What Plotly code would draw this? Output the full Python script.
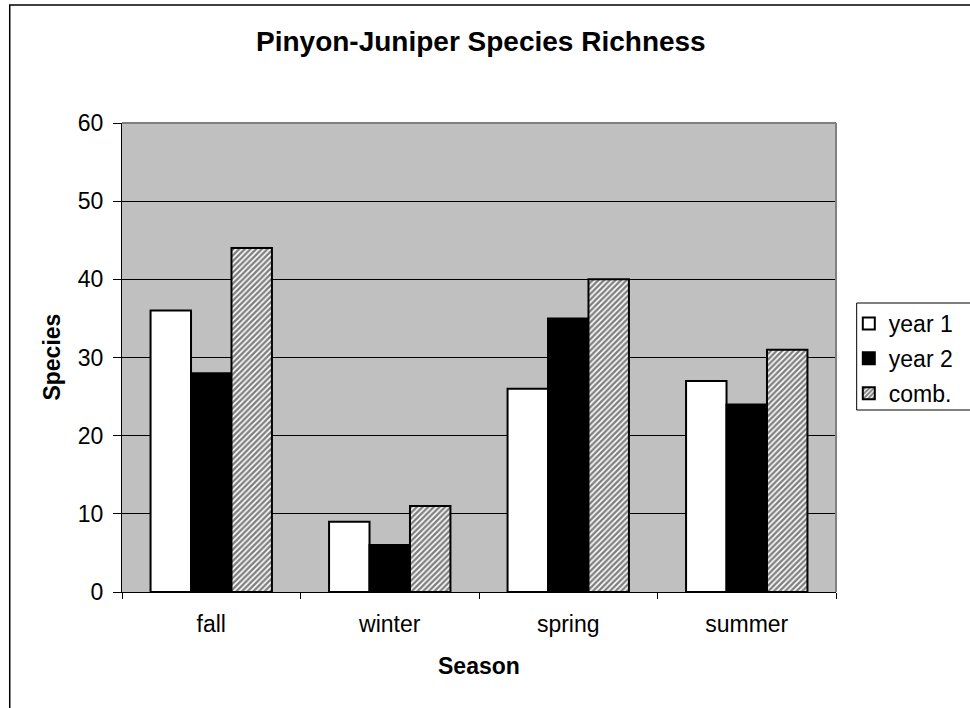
import plotly.graph_objects as go

# Species richness by season for the pinyon-juniper site
seasons = ["fall", "winter", "spring", "summer"]
year1 = [36, 9, 26, 27]
year2 = [28, 6, 35, 24]
combined = [44, 11, 40, 31]
series_names = ["year 1", "year 2", "comb."]

FONT = "Arial, Liberation Sans, sans-serif"

W, H = 970, 708
L, R, T, B = 122, 123, 123, 116
pw, ph = W - L - R, H - T - B


def px_x(x):
    return (x - L) / pw


def px_y(y):
    return (H - B - y) / ph


fig = go.Figure()
outline = dict(color="black", width=2)
fig.add_trace(go.Bar(x=seasons, y=year1, name=series_names[0], legendgroup="a",
                     marker=dict(color="white", line=outline)))
fig.add_trace(go.Bar(x=seasons, y=year2, name=series_names[1], legendgroup="b",
                     marker=dict(color="black", line=outline)))
fig.add_trace(go.Bar(x=seasons, y=combined, name=series_names[2], legendgroup="c",
                     marker=dict(color="white", line=outline,
                                 pattern=dict(shape="/", fgcolor="black", bgcolor="white",
                                              size=4, solidity=0.6))))

fig.update_layout(
    width=W, height=H,
    margin=dict(l=L, r=R, t=T, b=B),
    paper_bgcolor="white",
    plot_bgcolor="#C0C0C0",
    barmode="group",
    bargap=0.32,
    bargroupgap=0,
    font=dict(family=FONT, size=23, color="black"),
    showlegend=True,
    legend=dict(x=px_x(860), y=px_y(302), xanchor="left", yanchor="top",
                bgcolor="rgba(0,0,0,0)", borderwidth=0,
                traceorder="grouped", tracegroupgap=2,
                font=dict(family=FONT, size=23, color="black")),
    xaxis=dict(showline=True, linecolor="black", linewidth=1,
               ticks="outside", tickson="boundaries", ticklen=6, tickcolor="black",
               showgrid=False, tickfont=dict(size=23), ticklabelstandoff=11),
    yaxis=dict(range=[0, 60], dtick=10, showline=True, linecolor="black", linewidth=1,
               ticks="outside", ticklen=8, tickcolor="black",
               showgrid=True, gridcolor="black", gridwidth=1,
               zeroline=False, tickfont=dict(size=23), ticklabelstandoff=5),
)

# chart title and axis titles
fig.add_annotation(text="<b>Pinyon-Juniper Species Richness</b>", xref="paper", yref="paper",
                   x=px_x(487), y=px_y(41), xanchor="center", yanchor="middle",
                   showarrow=False, font=dict(size=28))
fig.add_annotation(text="<b>Species</b>", xref="paper", yref="paper",
                   x=px_x(50), y=0.5, xanchor="center", yanchor="middle",
                   textangle=-90, showarrow=False, font=dict(size=23))
fig.add_annotation(text="<b>Season</b>", xref="paper", yref="paper",
                   x=px_x(484), y=px_y(666), xanchor="center", yanchor="middle",
                   showarrow=False, font=dict(size=23))

# plot-area border (gray), chart border and legend box
fig.add_shape(type="line", xref="paper", yref="paper", x0=0, x1=1, y0=1, y1=1,
              line=dict(color="#808080", width=2), layer="above")
fig.add_shape(type="line", xref="paper", yref="paper", x0=1, x1=1, y0=0, y1=1,
              line=dict(color="#808080", width=2), layer="above")
fig.add_shape(type="rect", xref="paper", yref="paper",
              x0=px_x(8), x1=px_x(1000), y0=px_y(740), y1=px_y(5),
              line=dict(color="black", width=1.5), fillcolor="rgba(0,0,0,0)")
fig.add_shape(type="rect", xref="paper", yref="paper",
              x0=px_x(868), x1=px_x(1000), y0=px_y(410), y1=px_y(303),
              line=dict(color="black", width=1), fillcolor="white", layer="below")

fig.write_html("out.html")
